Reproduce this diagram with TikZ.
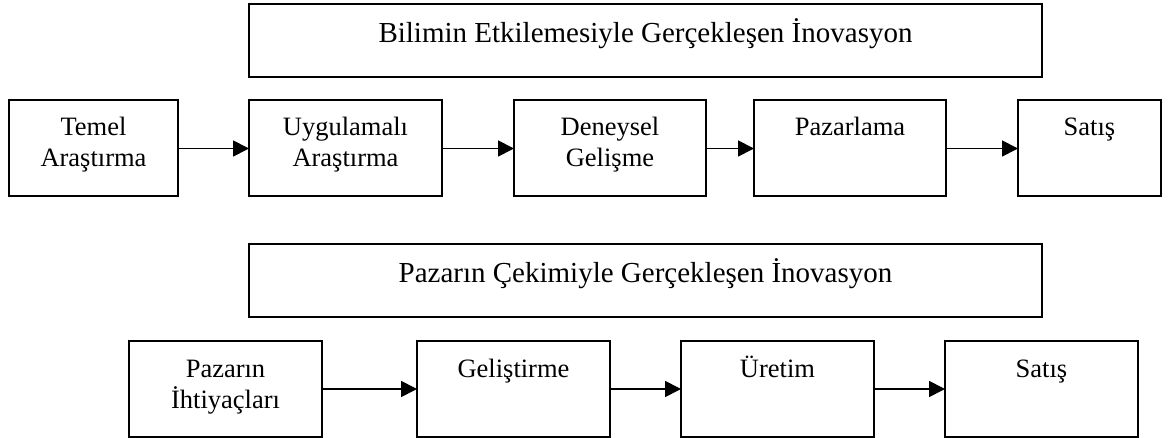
\documentclass[tikz,border=0pt]{standalone}
\usepackage{fontspec}
\setmainfont{Liberation Serif}
\usetikzlibrary{arrows.meta}

% top-aligned, centred text block of a given width and height
\newcommand\bxtext[4]{\parbox[c][#2][t]{#1}{\centering\rule{0pt}{#3}#4}}

\begin{document}
\begin{tikzpicture}[x=1pt,y=-1pt,
  stagebox/.style={draw, line width=2pt, inner sep=0pt, outer sep=0pt,
    font=\fontsize{26.5pt}{31pt}\selectfont},
  titlebox/.style={draw, line width=2pt, inner sep=0pt, outer sep=0pt,
    font=\fontsize{29pt}{34pt}\selectfont},
  flow/.style={line width=1.8pt, -{Triangle[length=16pt,width=16pt]}}]

  \fill[white] (0,0) rectangle (1173,438);
  \useasboundingbox (0,0) rectangle (1173,438);

  % science push
  \node[titlebox] (push) at (645.5,40.5)
    {\bxtext{793pt}{73pt}{39pt}{Bilimin Etkilemesiyle Gerçekleşen İnovasyon}};

  \node[stagebox] (temel)   at (93.5,148.5)  {\bxtext{169pt}{96pt}{35pt}{Temel\\Araştırma}};
  \node[stagebox] (uygul)   at (345.5,148.5) {\bxtext{193pt}{96pt}{35pt}{Uygulamalı\\Araştırma}};
  \node[stagebox] (deney)   at (610,148.5)   {\bxtext{192pt}{96pt}{35pt}{Deneysel\\Gelişme}};
  \node[stagebox] (pazarl)  at (850,148.5)   {\bxtext{192pt}{96pt}{35pt}{Pazarlama}};
  \node[stagebox] (satisA)  at (1089.5,148.5){\bxtext{143pt}{96pt}{35pt}{Satış}};

  \draw[flow] (temel) -- (uygul);
  \draw[flow] (uygul) -- (deney);
  \draw[flow] (deney) -- (pazarl);
  \draw[flow] (pazarl) -- (satisA);

  % market pull
  \node[titlebox] (pull) at (645.5,280.5)
    {\bxtext{793pt}{73pt}{39pt}{Pazarın Çekimiyle Gerçekleşen İnovasyon}};

  \node[stagebox] (ihtiyac) at (225.5,389)  {\bxtext{193pt}{96pt}{36pt}{Pazarın\\İhtiyaçları}};
  \node[stagebox] (gelis)   at (513.5,389)  {\bxtext{193pt}{96pt}{36pt}{Geliştirme}};
  \node[stagebox] (uretim)  at (777.5,389)  {\bxtext{193pt}{96pt}{36pt}{Üretim}};
  \node[stagebox] (satisB)  at (1041.5,389) {\bxtext{193pt}{96pt}{36pt}{Satış}};

  \draw[flow] (ihtiyac) -- (gelis);
  \draw[flow] (gelis) -- (uretim);
  \draw[flow] (uretim) -- (satisB);
\end{tikzpicture}
\end{document}
